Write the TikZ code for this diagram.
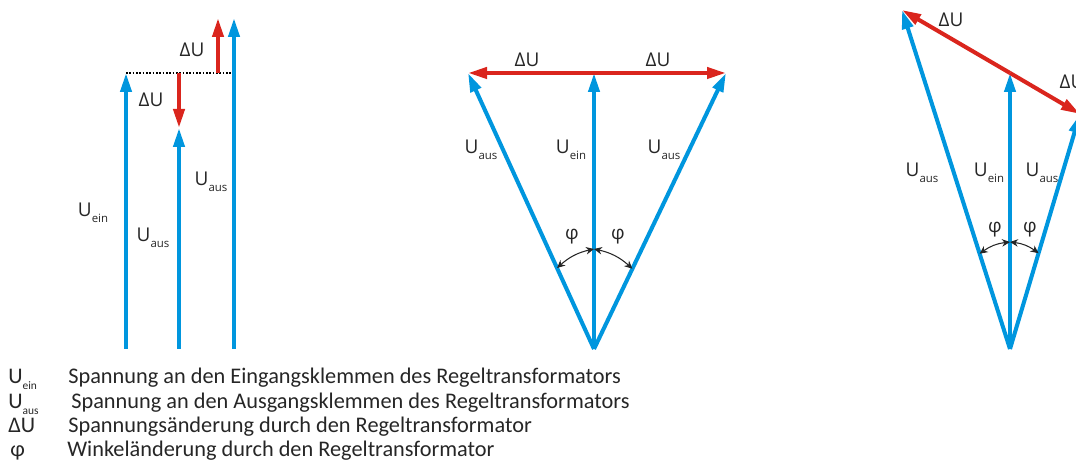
\documentclass[tikz,border=0pt]{standalone}
\usepackage{fontspec}
\setmainfont{Carlito}
\newfontfamily\labfont{Open Sans}
\usetikzlibrary{arrows.meta,calc}
\definecolor{vecBlue}{RGB}{0,150,222}
\definecolor{dRed}{RGB}{218,37,29}
\newcommand{\Usub}[1]{U\raisebox{-.55ex}{\fontsize{6.5}{7}\selectfont #1}}

\begin{document}
\begin{tikzpicture}[x=0.02cm, y=0.02cm,
  vec/.style={-{Triangle[length=0.38cm,width=0.22cm]}, line width=2.3pt, vecBlue},
  dvec/.style={-{Triangle[length=0.38cm,width=0.22cm]}, line width=2.3pt, dRed},
  phiarr/.style={{Stealth[length=1.6mm,width=1.5mm]}-{Stealth[length=1.6mm,width=1.5mm]}, line width=0.6pt, black!85},
  lab/.style={font=\labfont\fontsize{10.8}{12}\selectfont, text=black!85, inner sep=0pt},
  leg/.style={font=\fontsize{12.7}{15}\selectfont, text=black!85, anchor=base west, inner sep=0pt}
]
  \useasboundingbox (0,0) rectangle (1076,462);
  \clip (0,0) rectangle (1076,462);

  % left: in-phase regulation
  \coordinate (a0) at (126,113);
  \coordinate (aT) at (126,389);
  \coordinate (b0) at (179,113);
  \coordinate (bT) at (179,334);
  \coordinate (bD) at (179,389);
  \coordinate (c0) at (234,113);
  \coordinate (cT) at (234,444);
  \coordinate (cD) at (234,389);
  \coordinate (uD) at (218,389);
  \coordinate (uT) at (218,444);

  \draw[black, densely dotted, line width=0.9pt] (aT) -- (cD);
  \draw[vec] (a0) -- (aT);
  \draw[vec] (b0) -- (bT);
  \draw[vec] (c0) -- (cT);
  \draw[dvec] (bD) -- (bT);
  \draw[dvec] (uD) -- (uT);

  \node[lab] (la1) at (93,249) {\Usub{ein}};
  \node[lab] (la2) at (153,224) {\Usub{aus}};
  \node[lab] (la3) at (211,280) {\Usub{aus}};
  \node[lab] (ld1) at (192,412) {ΔU};
  \node[lab] (ld2) at (151,362) {ΔU};

  % middle: symmetric phase shift
  \coordinate (O1) at (594,113);
  \coordinate (E1) at (594,389);
  \coordinate (L1) at (468,389);
  \coordinate (R1) at (726,389);

  \draw[vec] (O1) -- (E1);
  \draw[vec] (O1) -- (L1);
  \draw[vec] (O1) -- (R1);
  \draw[dvec] (E1) -- (L1);
  \draw[dvec] (E1) -- (R1);

  \draw[phiarr] ($(O1)!2cm!(E1)$) to[bend right=15] ($(O1)!1.78cm!(L1)$);
  \draw[phiarr] ($(O1)!2cm!(E1)$) to[bend left=15] ($(O1)!1.78cm!(R1)$);

  \node[lab] (md1) at (527,402) {ΔU};
  \node[lab] (md2) at (658,402) {ΔU};
  \node[lab] (mu1) at (481,312) {\Usub{aus}};
  \node[lab] (mu2) at (571,312) {\Usub{ein}};
  \node[lab] (mu3) at (664,312) {\Usub{aus}};
  \node[lab] (mp1) at (572,225) {φ};
  \node[lab] (mp2) at (618,225) {φ};

  % right: asymmetric phase shift
  \coordinate (O2) at (1010,113);
  \coordinate (E2) at (1010,389);
  \coordinate (L2) at (902,452);
  \coordinate (R2) at (1080,348);

  \draw[vec] (O2) -- (E2);
  \draw[vec] (O2) -- (L2);
  \draw[vec] (O2) -- (R2);
  \draw[dvec] (E2) -- (L2);
  \draw[dvec] (E2) -- (R2);

  \draw[phiarr] ($(O2)!2.14cm!(E2)$) to[bend right=15] ($(O2)!2cm!(L2)$);
  \draw[phiarr] ($(O2)!2.14cm!(E2)$) to[bend left=15] ($(O2)!2cm!(R2)$);

  \node[lab] (rd1) at (951,442) {ΔU};
  \node[lab] (rd2) at (1072,380) {ΔU};
  \node[lab] (ru1) at (922,289) {\Usub{aus}};
  \node[lab] (ru2) at (989,289) {\Usub{ein}};
  \node[lab] (ru3) at (1042,289) {\Usub{aus}};
  \node[lab] (rp1) at (995,232) {φ};
  \node[lab] (rp2) at (1030,232) {φ};

  % legend
  \node[leg] (k1) at (8,78) {\Usub{ein}};
  \node[leg] (t1) at (68,78) {Spannung an den Eingangsklemmen des Regeltransformators};
  \node[leg] (k2) at (8,53) {\Usub{aus}};
  \node[leg] (t2) at (71,53) {Spannung an den Ausgangsklemmen des Regeltransformators};
  \node[leg] (k3) at (8,29) {ΔU};
  \node[leg] (t3) at (68,29) {Spannungsänderung durch den Regeltransformator};
  \node[leg] (k4) at (10,5) {φ};
  \node[leg] (t4) at (67,5) {Winkeländerung durch den Regeltransformator};
\end{tikzpicture}
\end{document}
